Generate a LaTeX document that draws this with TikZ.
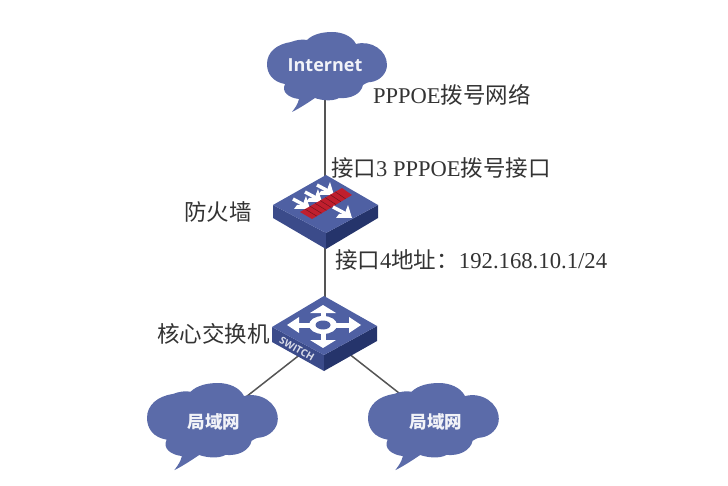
\documentclass[tikz,border=0pt]{standalone}
\usepackage{fontspec}
\setmainfont{Liberation Serif}
\newfontfamily\cjk{Noto Sans CJK SC}
\newfontfamily\labelsans{Open Sans}
\usetikzlibrary{backgrounds,calc}
\definecolor{cloudblue}{HTML}{5B6BA9}
\definecolor{topblue}{HTML}{4F60A3}
\definecolor{leftblue}{HTML}{3B4B8A}
\definecolor{rightblue}{HTML}{25346B}
\definecolor{linkgray}{HTML}{555555}
\definecolor{txt}{HTML}{333333}
\definecolor{firered}{HTML}{C01F2E}
\newcommand{\zh}[1]{{\cjk #1}}
\newcommand{\cloudat}[3]{%
  \begin{scope}[shift={(#1,#2)},scale=#3]
    \fill[cloudblue] (25,80)
      .. controls (28,76) and (31,72) .. (32,67)
      .. controls (22,66) and (14,60) .. (18,52)
      .. controls (6,50) and (0,42) .. (0,32)
      .. controls (0,20) and (10,12) .. (24,10)
      .. controls (29,8) and (35,7) .. (40,8)
      .. controls (46,2) and (56,0) .. (65,0)
      .. controls (75,0) and (85,4) .. (89,12)
      .. controls (104,8) and (120,18) .. (120,33)
      .. controls (120,42) and (112,49) .. (104,50)
      .. controls (100,50) and (98,52) .. (96,53)
      .. controls (94,62) and (84,67) .. (72,66)
      .. controls (65,70) and (53,68) .. (48,66)
      .. controls (42,70) and (33,76) .. (25,80) -- cycle;
  \end{scope}}
\newcommand{\firearrow}[4]{%
  \draw[white,line width=3.4pt] (#1,#2) -- (#3-1,#4-1);
  \fill[white] (#3+1,#4+1) -- (#3-15,#4+1) -- (#3-12,#4-3) -- (#3-6,#4-3) -- (#3-5,#4-7) -- (#3-3,#4-12) -- cycle;}
\tikzset{
  x=1pt,y=-1pt,
  lbl/.style={inner sep=0pt,anchor=west,text=txt,font=\fontsize{22.5}{24}\selectfont},
  cloudtext/.style={inner sep=0pt,text=white!92!cloudblue},
  device/.style={inner sep=0pt,minimum size=1pt},
  link/.style={draw=linkgray,line width=1.5pt}
}
\begin{document}
\begin{tikzpicture}
\useasboundingbox (0,0) rectangle (728,486);
% clouds
\cloudat{267}{32}{1}
\cloudat{147}{383}{1.09}
\cloudat{368}{383}{1.09}
\node[cloudtext,font=\labelsans\bfseries\fontsize{18}{20}\selectfont] (inet) at (325,65) {Internet};
\node[cloudtext,font=\cjk\bfseries\fontsize{17.5}{20}\selectfont] (lanl) at (214,422) {局域网};
\node[cloudtext,font=\cjk\bfseries\fontsize{17.5}{20}\selectfont] (lanr) at (436,422) {局域网};
% firewall body
\fill[leftblue] (273,205) -- (326,233) -- (326,249) -- (273,218) -- cycle;
\fill[rightblue] (378,205) -- (326,233) -- (326,249) -- (378,218) -- cycle;
\fill[topblue] (273,205) -- (326,175) -- (378,205) -- (326,233) -- cycle;
% firewall arrows behind the bar
\firearrow{293}{199}{309}{208}
\firearrow{305}{192}{321}{201}
\firearrow{317}{185}{333}{194}
\fill[firered] (300,212) -- (342,188) -- (352,195) -- (312,219) -- cycle;
\foreach \t in {0.12,0.24,...,0.95}{
  \draw[firered!60!black,line width=.5pt] ($(300,212)!\t!(342,188)$) -- ($(312,219)!\t!(352,195)$);
}
\firearrow{333}{207}{351}{217}
\node[device] (fw) at (325,212) {};
% switch body
\fill[leftblue] (272,327) -- (324,355) -- (324,371) -- (272,342) -- cycle;
\fill[rightblue] (377,326) -- (324,355) -- (324,371) -- (377,341) -- cycle;
\fill[topblue] (272,327) -- (324,296) -- (377,326) -- (324,355) -- cycle;
\draw[white,line width=5pt] (323,311) -- (323,341) (293,325) -- (354,325);
\fill[white] (323,305) -- (336,313) -- (310,313) -- cycle;
\fill[white] (323,348) -- (336,340) -- (310,340) -- cycle;
\fill[white] (287,325) -- (299,317) -- (299,333) -- cycle;
\fill[white] (361,325) -- (349,317) -- (349,333) -- cycle;
\fill[white] (323,325) ellipse (14 and 9);
\fill[topblue] (323,325) ellipse (7.5 and 4.5);
\node[inner sep=0pt,text=white!80!leftblue,rotate=-30,font=\labelsans\bfseries\fontsize{10}{10}\selectfont] (swtext) at (297,349) {SWITCH};
\node[device] (sw) at (325,335) {};
% connectors
\begin{scope}[on background layer]
  \draw[link] (inet.center) -- (fw.center);
  \draw[link] (fw.center) -- (sw.center);
  \draw[link] (sw.center) -- (lanl.center);
  \draw[link] (sw.center) -- (lanr.center);
\end{scope}
% labels
\node[lbl] (l1) at (373,95) {PPPOE\zh{拨号网络}};
\node[lbl] (l2) at (331,168) {\zh{接口}3 PPPOE\zh{拨号接口}};
\node[lbl] (l3) at (184,212) {\zh{防火墙}};
\node[lbl] (l4) at (335,260) {\zh{接口}4\zh{地址：}{\fontsize{22.7}{23}\selectfont 192.168.10.1/24}};
\node[lbl] (l5) at (157,334) {\zh{核心交换机}};
\end{tikzpicture}
\end{document}
